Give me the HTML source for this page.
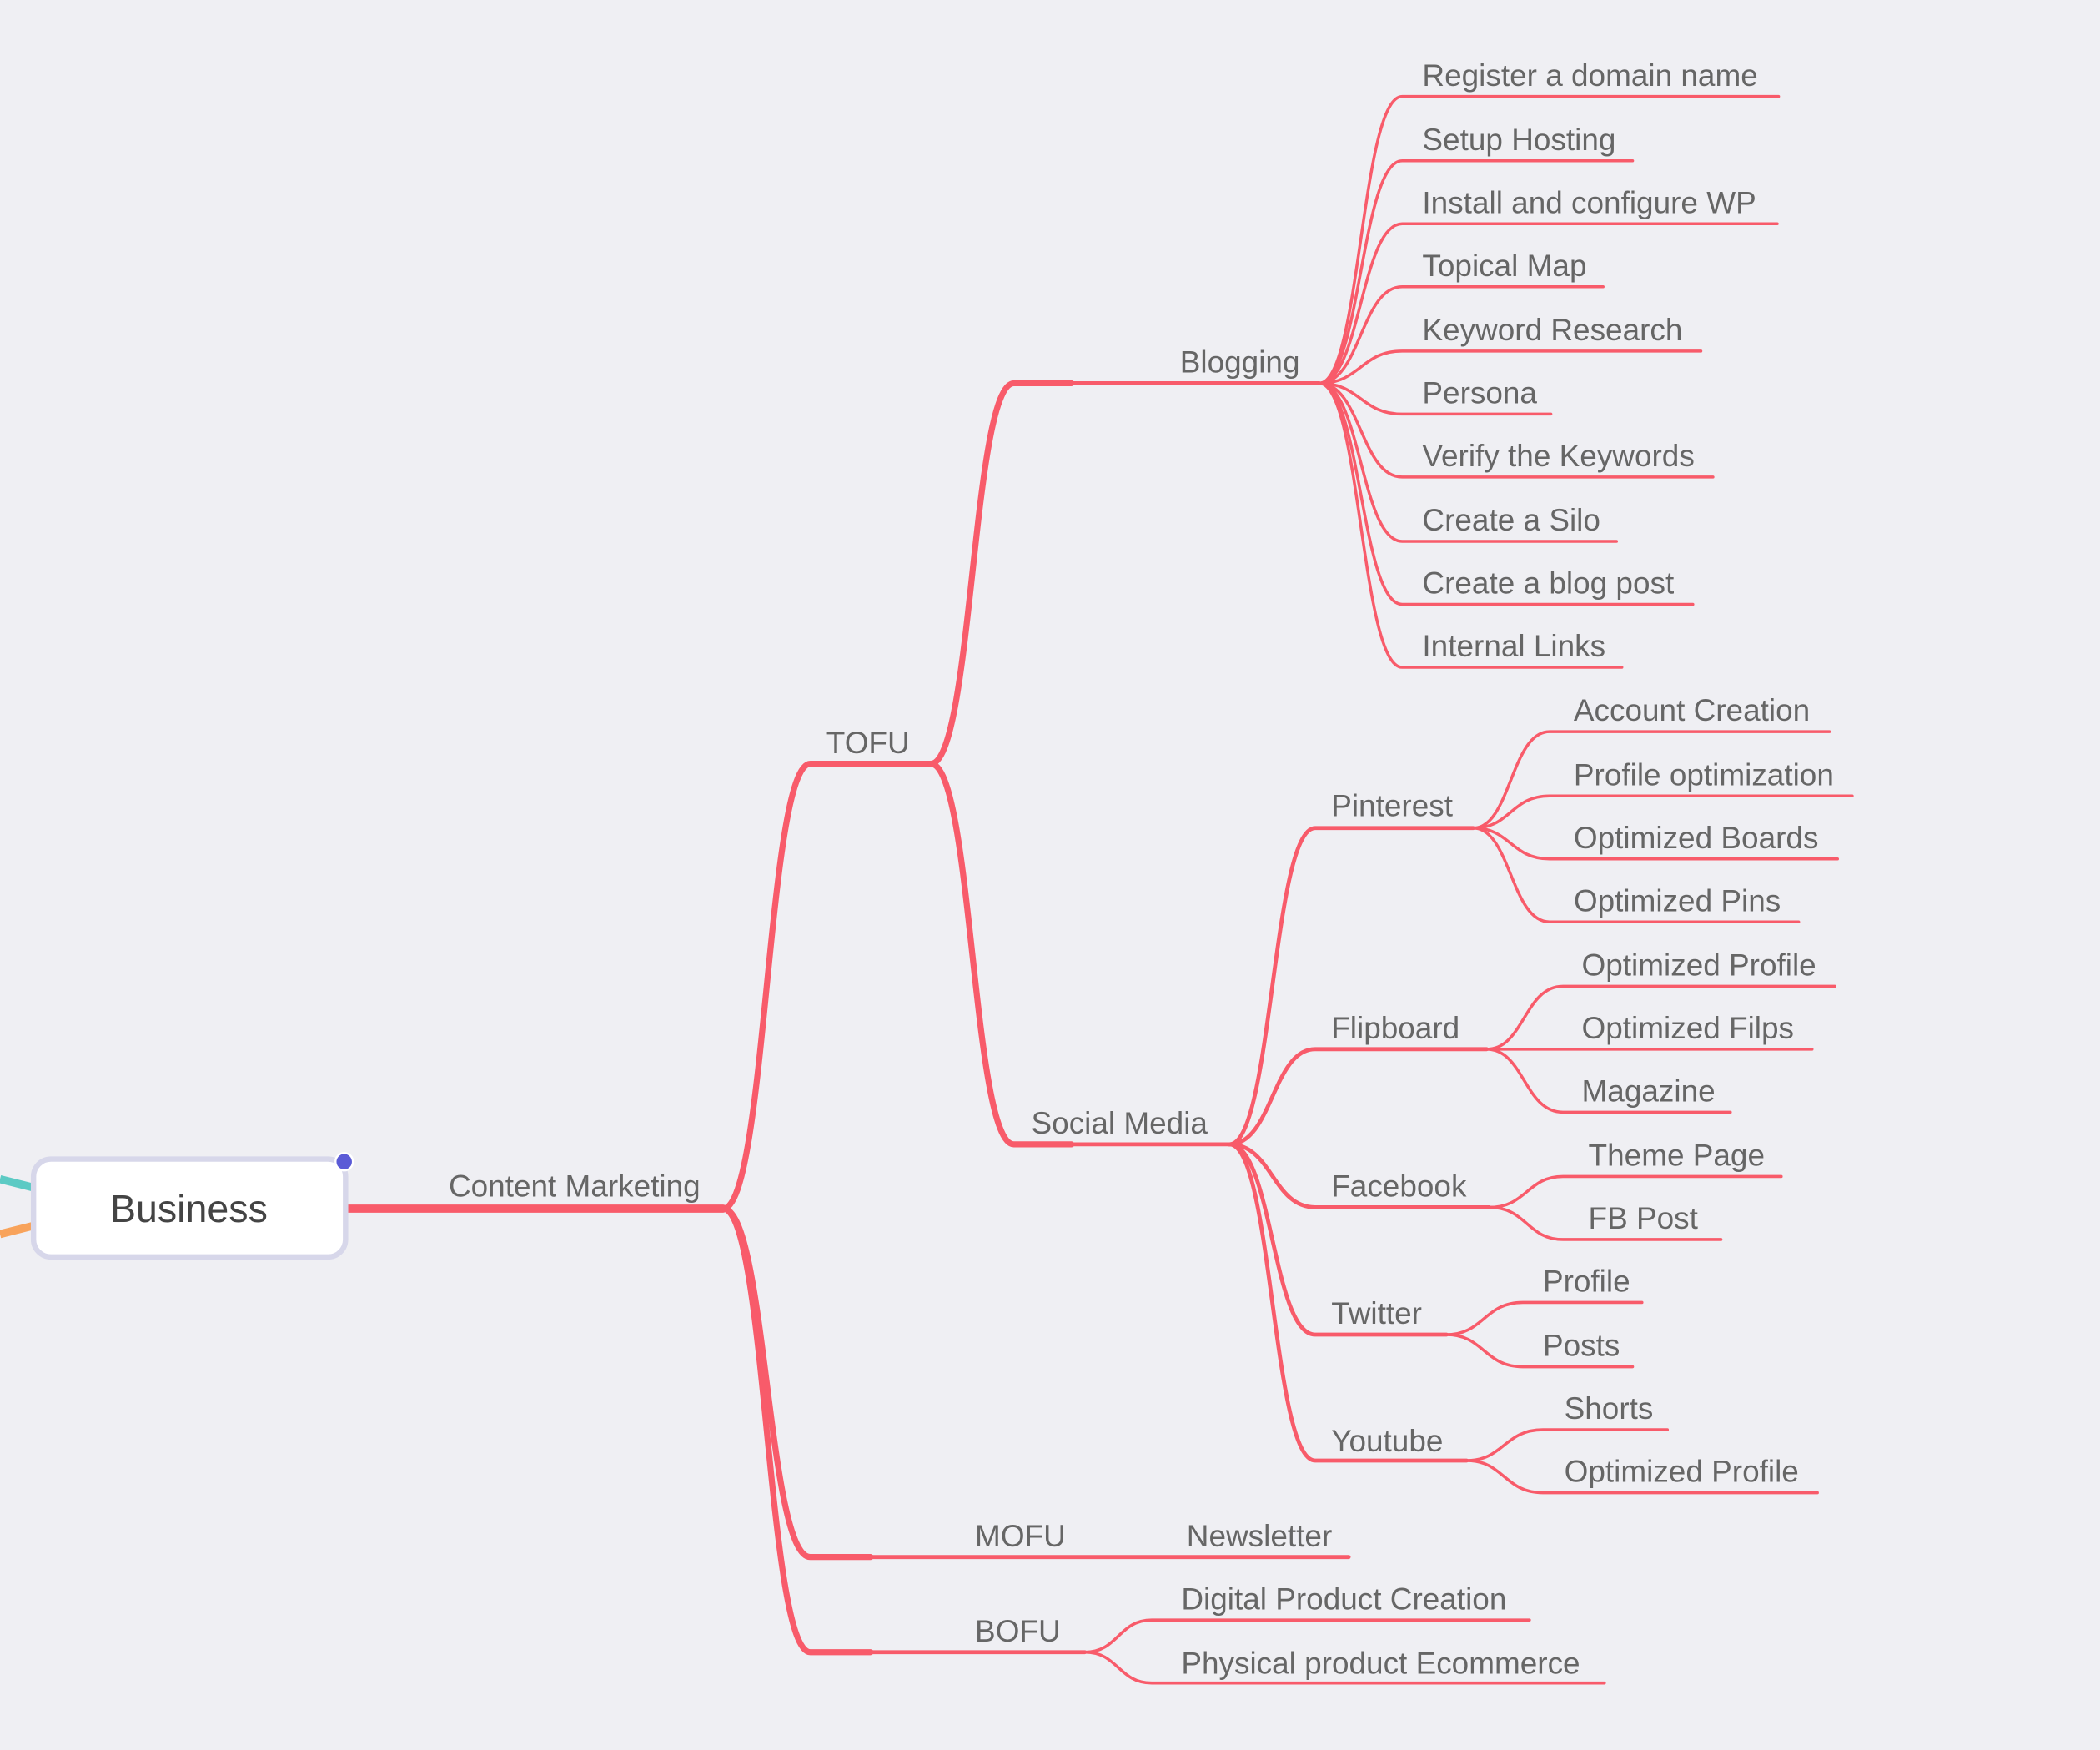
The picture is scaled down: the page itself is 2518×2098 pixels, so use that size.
<!DOCTYPE html>
<html><head><meta charset="utf-8"><style>
html,body{margin:0;padding:0;background:#efeff3;}
svg{display:block}
text{font-family:"Liberation Sans",sans-serif;fill:#666;font-size:23px}
.b{stroke:#f85b6a;fill:none;stroke-linecap:round}
</style></head><body>
<svg width="2518" height="2098" viewBox="0 0 1568 1306" preserveAspectRatio="none" xmlns="http://www.w3.org/2000/svg">
<rect width="1568" height="1306" fill="#efeff3"/>
<path d="M0 880 L24 886" stroke="#5ccac4" stroke-width="6"/>
<path d="M0 921 L24 915" stroke="#f8a35b" stroke-width="6"/>
<!-- main -->
<path class="b" stroke-width="6" d="M259 902 L540 902"/>
<g class="b" stroke-width="4.5">
<path d="M540 902 C572 902 573 570 605 570 L695 570"/>
<path d="M540 902 C572 902 573 1162 605 1162 L650 1162"/>
<path d="M540 902 C572 902 573 1233 605 1233 L650 1233"/>
<path d="M695 570 C726 570 726 286 757 286 L800 286"/>
<path d="M695 570 C726 570 726 854 757 854 L800 854"/>
</g>
<g class="b" stroke-width="3">
<path d="M650 1162 L1007 1162"/>
<path d="M650 1233 L810 1233"/>
<path d="M800 286 L985 286"/>
<path d="M800 854 L918 854"/>
<path d="M918 854 C950 854 950 618 982 618 L1100 618"/>
<path d="M918 854 C950 854 950 783 982 783 L1110 783"/>
<path d="M918 854 C950 854 950 901 982 901 L1112 901"/>
<path d="M918 854 C950 854 950 996 982 996 L1080 996"/>
<path d="M918 854 C950 854 950 1090 982 1090 L1095 1090"/>
</g>
<g class="b" stroke-width="2.2">
<path d="M810 1233 C835 1233 835 1209 860 1209 L1142 1209"/>
<path d="M810 1233 C835 1233 835 1256 860 1256 L1198 1256"/>
<path d="M985 286 C1016 286 1016 72 1047 72 L1328 72"/>
<path d="M985 286 C1016 286 1016 120 1047 120 L1219 120"/>
<path d="M985 286 C1016 286 1016 167 1047 167 L1327 167"/>
<path d="M985 286 C1016 286 1016 214 1047 214 L1197 214"/>
<path d="M985 286 C1016 286 1016 262 1047 262 L1270 262"/>
<path d="M985 286 C1016 286 1016 309 1047 309 L1158 309"/>
<path d="M985 286 C1016 286 1016 356 1047 356 L1279 356"/>
<path d="M985 286 C1016 286 1016 404 1047 404 L1207 404"/>
<path d="M985 286 C1016 286 1016 451 1047 451 L1264 451"/>
<path d="M985 286 C1016 286 1016 498 1047 498 L1211 498"/>
<path d="M1100 618 C1128 618 1128 546 1157 546 L1366 546"/>
<path d="M1100 618 C1128 618 1128 594 1157 594 L1383 594"/>
<path d="M1100 618 C1128 618 1128 641 1157 641 L1372 641"/>
<path d="M1100 618 C1128 618 1128 688 1157 688 L1343 688"/>
<path d="M1110 783 C1138 783 1138 736 1167 736 L1370 736"/>
<path d="M1110 783 C1138 783 1138 783 1167 783 L1353 783"/>
<path d="M1110 783 C1138 783 1138 830 1167 830 L1292 830"/>
<path d="M1112 901 C1140 901 1140 878 1167 878 L1330 878"/>
<path d="M1112 901 C1140 901 1140 925 1167 925 L1285 925"/>
<path d="M1080 996 C1108 996 1108 972 1137 972 L1226 972"/>
<path d="M1080 996 C1108 996 1108 1020 1137 1020 L1219 1020"/>
<path d="M1095 1090 C1123 1090 1123 1067 1152 1067 L1245 1067"/>
<path d="M1095 1090 C1123 1090 1123 1114 1152 1114 L1357 1114"/>
</g>
<!-- Business node -->
<rect x="25" y="865" width="233" height="73" rx="13" fill="#fff" stroke="#d7d7ea" stroke-width="4"/>
<circle cx="257" cy="867" r="6.5" fill="#5a5ad6" stroke="#fff" stroke-width="1.5"/>
<text x="141" y="912" text-anchor="middle" style="font-size:29px;fill:#444">Business</text>
<text x="335" y="893">Content Marketing</text>
<text x="617" y="562">TOFU</text>
<text x="728" y="1154">MOFU</text>
<text x="728" y="1225">BOFU</text>
<text x="886" y="1154">Newsletter</text>
<text x="882" y="1201">Digital Product Creation</text>
<text x="882" y="1249">Physical product Ecommerce</text>
<text x="881" y="278">Blogging</text>
<text x="770" y="846">Social Media</text>
<text x="1062" y="64">Register a domain name</text>
<text x="1062" y="112">Setup Hosting</text>
<text x="1062" y="159">Install and configure WP</text>
<text x="1062" y="206">Topical Map</text>
<text x="1062" y="254">Keyword Research</text>
<text x="1062" y="301">Persona</text>
<text x="1062" y="348">Verify the Keywords</text>
<text x="1062" y="396">Create a Silo</text>
<text x="1062" y="443">Create a blog post</text>
<text x="1062" y="490">Internal Links</text>
<text x="994" y="609">Pinterest</text>
<text x="994" y="775">Flipboard</text>
<text x="994" y="893">Facebook</text>
<text x="994" y="988">Twitter</text>
<text x="994" y="1083">Youtube</text>
<text x="1175" y="538">Account Creation</text>
<text x="1175" y="586">Profile optimization</text>
<text x="1175" y="633">Optimized Boards</text>
<text x="1175" y="680">Optimized Pins</text>
<text x="1181" y="728">Optimized Profile</text>
<text x="1181" y="775">Optimized Filps</text>
<text x="1181" y="822">Magazine</text>
<text x="1186" y="870">Theme Page</text>
<text x="1186" y="917">FB Post</text>
<text x="1152" y="964">Profile</text>
<text x="1152" y="1012">Posts</text>
<text x="1168" y="1059">Shorts</text>
<text x="1168" y="1106">Optimized Profile</text>
</svg>
</body></html>
